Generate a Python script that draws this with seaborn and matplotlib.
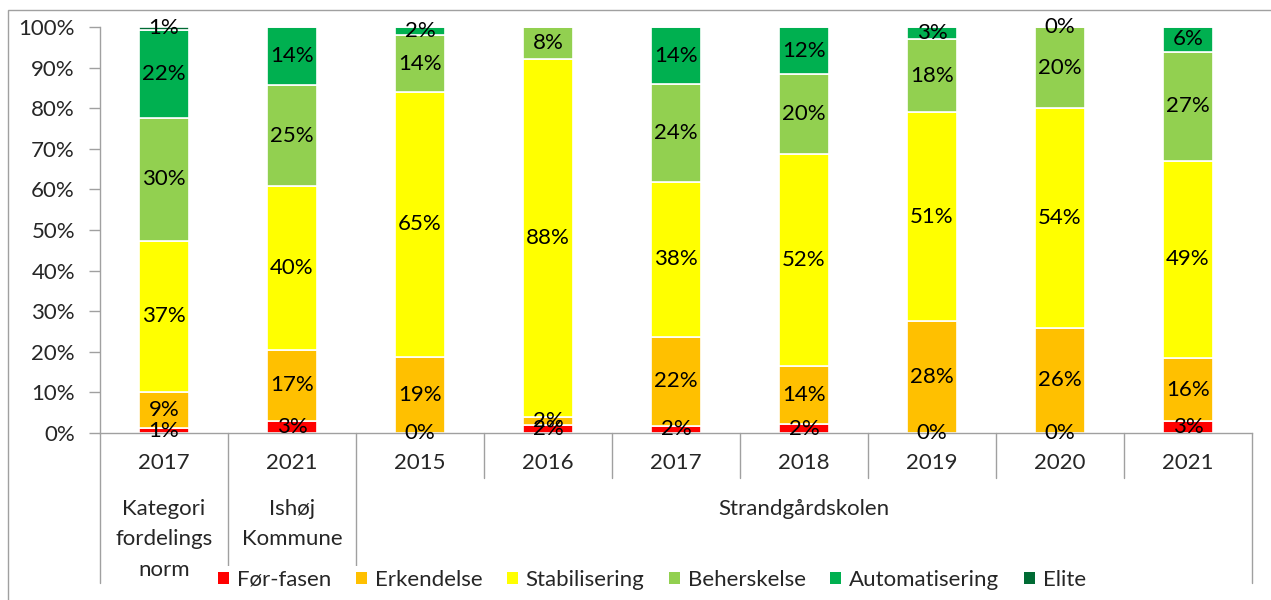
import numpy as np
import pandas as pd

import seaborn as sns
from matplotlib import pyplot as plt
from matplotlib.patches import Patch, Rectangle

# Data (percent)

years = ['2017', '2021', '2015', '2016', '2017', '2018', '2019', '2020', '2021']
groups = ['Kategori\nfordelings\nnorm', 'Ishøj\nKommune', 'Strandgårdskolen']
group_span = [(0, 0), (1, 1), (2, 8)]

phases = ['Før-fasen', 'Erkendelse', 'Stabilisering',
          'Beherskelse', 'Automatisering', 'Elite']

foer = [1.2, 3.0, 0.0, 1.9, 1.8, 2.2, 0.0, 0.0, 2.9]
erkendelse = [8.9, 17.4, 18.8, 2.1, 21.8, 14.4, 27.6, 25.9, 15.6]
stabilisering = [37.2, 40.4, 65.2, 88.1, 38.3, 52.2, 51.4, 54.1, 48.6]
beherskelse = [30.3, 24.9, 14.0, 7.9, 24.0, 19.6, 18.0, 20.0, 26.8]
automatisering = [21.7, 14.3, 2.0, np.nan, 14.1, 11.6, 3.0, 0.0, 6.1]
elite = [0.7, np.nan, np.nan, np.nan, np.nan, np.nan, np.nan, np.nan, np.nan]

colors = ['#FF0000', '#FFC000', '#FFFF00', '#92D050', '#00B050', '#006B34']

values = [foer, erkendelse, stabilisering, beherskelse, automatisering, elite]

df = pd.DataFrame({
    'pos': np.tile(np.arange(len(years)), len(phases)),
    'fase': np.repeat(phases, len(years)),
    'value': np.concatenate(values),
})
df['w'] = df['value'].fillna(0)

sns.set_style('white')
plt.rcParams['font.family'] = ['Lato', 'DejaVu Sans']
fs = 16

fig = plt.figure(figsize=(12.71, 6), dpi=100)
ax = fig.add_axes([100 / 1271, 1 - 433 / 600, (1252 - 100) / 1271, 406 / 600])

# histplot stacks the first hue level on top, so reverse the order
sns.histplot(data=df, x='pos', weights='w', hue='fase',
             hue_order=phases[::-1], palette=colors[::-1],
             multiple='stack', discrete=True, shrink=0.39,
             alpha=1, edgecolor='white', linewidth=1.2,
             legend=False, ax=ax)

# Data labels
bottom = np.zeros(len(years))
for vals in values:
    v = np.array(vals, dtype=float)
    for i, val in enumerate(v):
        if not np.isnan(val):
            ax.text(i, bottom[i] + val / 2, f'{val:.0f}%', ha='center',
                    va='center', fontsize=fs, color='black')
    bottom += np.nan_to_num(v)

ax.set_xlim(-0.5, len(years) - 0.5)
ax.set_ylim(0, 100)
ax.set_yticks(np.arange(0, 101, 10))
ax.set_yticklabels([f'{t}%' for t in range(0, 101, 10)], fontsize=fs)
ax.set_xticks([])
ax.set_xlabel('')
ax.set_ylabel('')
ax.tick_params(axis='y', left=True, length=8, width=1, color='#A0A0A0', pad=10)

for s in ['top', 'right']:
    ax.spines[s].set_visible(False)
for s in ['left', 'bottom']:
    ax.spines[s].set_color('#A0A0A0')
    ax.spines[s].set_linewidth(1)

# Multi-level category axis
tr = ax.get_xaxis_transform()
for i, y in enumerate(years):
    ax.text(i, -30 / 406, y, ha='center', va='center', fontsize=fs, transform=tr)

long_sep = [-0.5, 0.5, 1.5, 8.5]
short_sep = [2.5, 3.5, 4.5, 5.5, 6.5, 7.5]
for x in long_sep:
    ax.plot([x, x], [0, -150 / 406], color='#A0A0A0', lw=1,
            transform=tr, clip_on=False)
for x in short_sep:
    ax.plot([x, x], [0, -45 / 406], color='#A0A0A0', lw=1,
            transform=tr, clip_on=False)

for label, (a, b) in zip(groups, group_span):
    ax.text((a + b) / 2, -66 / 406, label, ha='center', va='top',
            fontsize=fs, linespacing=1.65, transform=tr)

# Legend
handles = [Patch(facecolor=c, edgecolor='none') for c in colors]
leg = fig.legend(handles, phases, loc='center', ncol=6,
                 bbox_to_anchor=(652 / 1271, 20 / 600),
                 frameon=True, fontsize=fs, handlelength=0.5, handleheight=0.5,
                 handletextpad=0.35, columnspacing=1.1, borderpad=0.2)
leg.get_frame().set_facecolor('white')
leg.get_frame().set_edgecolor('none')
leg.get_frame().set_alpha(1)

# Chart area border
fig.add_artist(Rectangle((8 / 1271, -0.1), 1.1, (590 / 600) + 0.1,
                         transform=fig.transFigure, fill=False,
                         edgecolor='#A0A0A0', lw=1, clip_on=False))

fig.savefig('out.png', dpi=100)
